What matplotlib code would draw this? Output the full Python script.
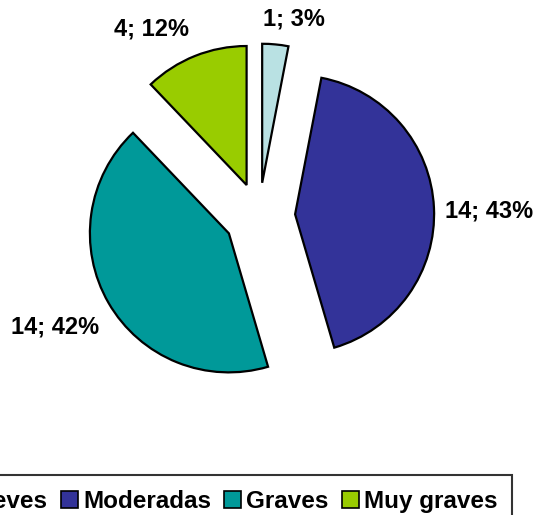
import numpy as np
import matplotlib
matplotlib.use("Agg")
import matplotlib.pyplot as plt
from matplotlib.patches import Patch

categories = ["Leves", "Moderadas", "Graves", "Muy graves"]
values = [1, 14, 14, 4]
percents = [3, 43, 42, 12]
colors = ["#B9E1E3", "#333399", "#009999", "#99CC00"]

plt.rcParams['font.family'] = ['Liberation Sans', 'DejaVu Sans']

W, H = 535, 515
fig = plt.figure(figsize=(W / 100, H / 100), dpi=100)
ax = fig.add_axes([0, 0, 1, 1])

R = 139
cx, cy = 259, H - 216
explode = [0.24, 0.26, 0.25, 0.24]
wedges, _ = ax.pie(values, colors=colors, startangle=90, counterclock=False,
                   radius=R, center=(cx, cy), explode=[e * R for e in explode],
                   wedgeprops=dict(edgecolor='black', linewidth=1.6),
                   frame=True)
ax.set_xlim(0, W)
ax.set_ylim(0, H)
ax.set_aspect('equal')
ax.axis('off')

label_dist = [1.18, 1.08, 1.15, 1.20]
label_ang_shift = [5.0, -1.5, 6.0, -1.5]
for w, v, p, d, s, e in zip(wedges, values, percents, label_dist, label_ang_shift, explode):
    mid = np.deg2rad((w.theta1 + w.theta2) / 2)
    ex, ey = cx + e * R * np.cos(mid), cy + e * R * np.sin(mid)
    ang = mid + np.deg2rad(s)
    tx, ty = ex + d * R * np.cos(ang), ey + d * R * np.sin(ang)
    ax.text(tx, ty, f"{v}; {p}%", ha='left' if np.cos(ang) >= 0 else 'right',
            va='center', fontsize=17, fontweight='bold')

handles = [Patch(facecolor=c, edgecolor='black', linewidth=1.2) for c in colors]
leg = fig.legend(handles, categories, loc='upper right', ncol=4,
                 bbox_to_anchor=(512 / W, 1 - 475 / H),
                 prop=dict(family='Liberation Sans', weight='bold', size=17.5),
                 handlelength=0.7, handleheight=0.7, handletextpad=0.2,
                 columnspacing=0.55, borderpad=0.6, borderaxespad=0,
                 fancybox=False, frameon=True)
leg.get_frame().set_edgecolor('black')
leg.get_frame().set_linewidth(1.5)

fig.savefig("out.png", dpi=100)
